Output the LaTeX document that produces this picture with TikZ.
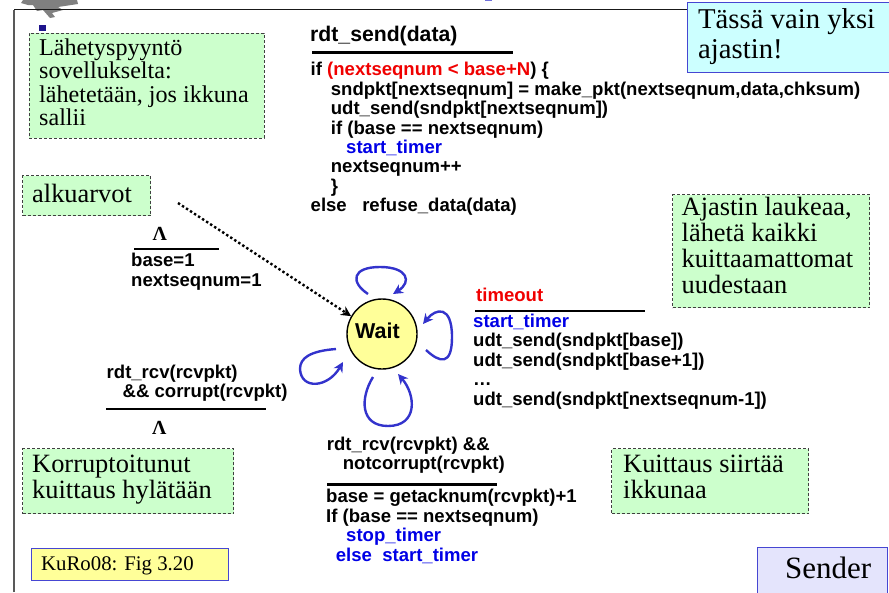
\documentclass[tikz,border=0pt]{standalone}
\usepackage{fontspec}
\setmainfont{Liberation Serif}
\newfontfamily\arl{Liberation Sans}[BoldFont={Liberation Sans Bold}]
\usetikzlibrary{arrows.meta}
\definecolor{notegreen}{RGB}{204,255,204}
\definecolor{noteblue}{RGB}{204,255,255}
\definecolor{noteyellow}{RGB}{255,255,153}
\definecolor{notelav}{RGB}{228,228,252}
\definecolor{edgeblue}{RGB}{70,70,210}
\definecolor{loopblue}{RGB}{51,51,204}
\definecolor{waitfill}{RGB}{255,255,153}
\definecolor{bulletblue}{RGB}{30,20,140}
\definecolor{codeblue}{RGB}{0,0,230}
\definecolor{codered}{RGB}{240,0,0}
\tikzset{
  x=1pt,y=-1pt,
  notebox/.style={draw=black!75,fill=notegreen,dash pattern=on 3pt off 2pt,line width=1pt,anchor=north west,inner sep=0},
  solidbox/.style={draw=edgeblue,line width=1.2pt,anchor=north west,inner sep=0},
  serif/.style={anchor=north west,inner sep=0pt,align=left,font=\fontsize{26.4}{26}\selectfont},
  code/.style={anchor=north west,inner sep=0pt,align=left,font=\arl\bfseries\fontsize{18.55}{19.4}\selectfont},
  lam/.style={anchor=base west,inner sep=0pt,font=\bfseries\fontsize{20}{20}\selectfont},
  bar/.style={line width=2pt,black},
  loopedge/.style={draw=loopblue,line width=2.4pt,-{Stealth[length=10pt,width=10pt]}},
}
\begin{document}
\begin{tikzpicture}
\useasboundingbox (0,0) rectangle (889,592);
% logo fragment
\fill[black!50] (23,0) -- (21,3) -- (28,5) -- (33,5) -- (37,11) -- (43,10) -- (50,18) -- (55,17) -- (52,13) -- (63,10) -- (58,7) -- (78,4) -- (77,0) -- cycle;
\fill[loopblue!70] (485,0) rectangle (492,1);
% frame
\coordinate (fa) at (14,592); \coordinate (fb) at (14,9.7); \coordinate (fc) at (687,9.7);
\draw[black!65,line width=2pt] (fa) -- (fb);
\draw[black!90,line width=1.2pt] (fb) -- (fc);
\fill[bulletblue] (38.5,24.5) rectangle (46,31);
% notes
\node[notebox,minimum width=235,minimum height=105] (n1) at (28.5,32.5) {};
\node[serif,font=\fontsize{24.1}{23.4}\selectfont] (n1t) at (39,38.5) {Lähetyspyyntö\\sovellukselta:\\lähetetään, jos ikkuna\\sallii};
\node[notebox,minimum width=128,minimum height=40] (n2) at (22,175) {};
\node[serif] (n2t) at (32,184) {alkuarvot};
\node[notebox,minimum width=197,minimum height=113] (n3) at (672,194) {};
\node[serif] (n3t) at (681.5,197.3) {Ajastin laukeaa,\\lähetä kaikki\\kuittaamattomat\\uudestaan};
\node[notebox,minimum width=211,minimum height=65] (n4) at (22,448) {};
\node[serif] (n4t) at (32,455) {Korruptoitunut\\kuittaus hylätään};
\node[notebox,minimum width=197,minimum height=65] (n5) at (611,448) {};
\node[serif] (n5t) at (623,455) {Kuittaus siirtää\\ikkunaa};
\node[solidbox,fill=noteblue,minimum width=205,minimum height=70] (tb) at (687,2) {};
\node[serif,font=\fontsize{28.7}{30}\selectfont] (tbt) at (698,8.5) {Tässä vain yksi\\ajastin!};
\node[solidbox,fill=noteyellow,minimum width=197.5,minimum height=32] (ku) at (30.5,548) {};
\node[serif,font=\fontsize{20.8}{22}\selectfont] at (41,556) {KuRo08: Fig 3.20};
\node[solidbox,fill=notelav,minimum width=130,minimum height=50] (se) at (757,547) {};
\node[serif,font=\fontsize{31}{32}\selectfont] (set) at (785,557) {Sender};
% code top
\node[code,font=\arl\bfseries\fontsize{21.2}{22}\selectfont] (c0) at (310,26.2) {rdt\_send(data)};
\coordinate (b0a) at (312,52); \coordinate (b0b) at (513,52);
\draw[bar,line width=3pt] (b0a) -- (b0b);
\node[code] (c1) at (310.5,62.2) {if \textcolor{codered}{(nextseqnum < base+N}) \{\\
\hspace*{20.2pt}sndpkt[nextseqnum] = make\_pkt(nextseqnum,data,chksum)\\
\hspace*{20.2pt}udt\_send(sndpkt[nextseqnum])\\
\hspace*{20.2pt}if (base == nextseqnum)\\
\hspace*{35.5pt}\textcolor{codeblue}{start\_timer}\\
\hspace*{20.2pt}nextseqnum++\\
\hspace*{20.2pt}\}\\
else\ \ \ refuse\_data(data)};
% init
\node[lam] (lam1) at (152.5,240) {Λ};
\coordinate (b1a) at (134,249); \coordinate (b1b) at (219,249);
\draw[bar] (b1a) -- (b1b);
\node[code] (c2) at (131,253) {base=1\\nextseqnum=1};
% corrupt
\node[code] (c3) at (106.5,364.8) {rdt\_rcv(rcvpkt)\\\hspace*{16pt}\&\& corrupt(rcvpkt)};
\coordinate (b3a) at (106,409.3); \coordinate (b3b) at (266,409.3);
\draw[bar] (b3a) -- (b3b);
\node[lam] (lam3) at (152,434.3) {Λ};
% timeout
\node[code,text=codered] (c4) at (476,288.2) {timeout};
\coordinate (b4a) at (475,310.7); \coordinate (b4b) at (645,310.7);
\draw[bar] (b4a) -- (b4b);
\node[code] (c5) at (473,313.8) {\textcolor{codeblue}{start\_timer}\\udt\_send(sndpkt[base])\\udt\_send(sndpkt[base+1])\\…\\udt\_send(sndpkt[nextseqnum-1])};
% ack
\node[code] (c6) at (326.7,436.5) {rdt\_rcv(rcvpkt) \&\&\\\hspace*{16pt}notcorrupt(rcvpkt)};
\coordinate (b6a) at (327,484.3); \coordinate (b6b) at (497,484.3);
\draw[bar,line width=3pt] (b6a) -- (b6b);
\node[code] (c7) at (326,489.2) {base = getacknum(rcvpkt)+1\\If (base == nextseqnum)\\\hspace*{20pt}\textcolor{codeblue}{stop\_timer}\\\hspace*{9.7pt}\textcolor{codeblue}{else\ \ start\_timer}};
% wait
\node[circle,draw=black,fill=waitfill,line width=1.4pt,minimum size=70,inner sep=0] (wait) at (382,334) {};
\node[font=\arl\bfseries\fontsize{21.5}{22}\selectfont,inner sep=0] (waitt) at (377.5,331) {Wait};
% entry
\coordinate (start) at (178,203);
\draw[line width=2.4pt,dash pattern=on 2.4pt off 2.4pt,-{Stealth[length=10pt,width=10pt]}] (start) -- (wait.150);
% loops
\coordinate (l1s) at (368,294); \coordinate (l1e) at (393,294);
\draw[loopedge] (l1s) .. controls (350,282) and (352,267) .. (380,267) .. controls (408,267) and (412,282) .. (l1e);
\coordinate (l2s) at (426,350); \coordinate (l2e) at (423,324);
\draw[loopedge] (l2s) .. controls (440,363) and (452,366) .. (452,337) .. controls (452,305) and (436,308) .. (l2e);
\coordinate (l3s) at (336,349); \coordinate (l3e) at (343,362);
\draw[loopedge] (l3s) .. controls (310,351) and (300,358) .. (300,369) .. controls (301,390) and (328,388) .. (l3e);
\coordinate (l4s) at (373,377); \coordinate (l4e) at (398,374);
\draw[loopedge] (l4s) .. controls (360,398) and (360,426) .. (388,426) .. controls (418,426) and (416,395) .. (l4e);
\end{tikzpicture}
\end{document}
